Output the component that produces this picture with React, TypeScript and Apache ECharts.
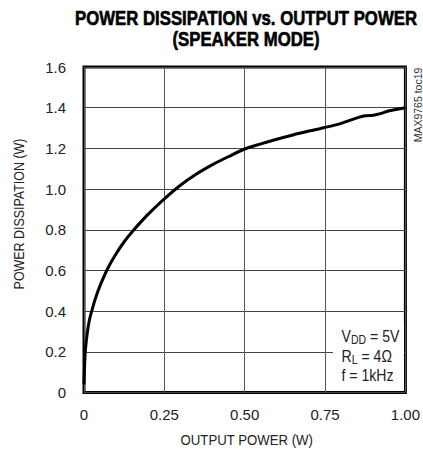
import React, { useEffect, useRef } from "react";
import * as echarts from "echarts";

const xValues = [0, 0.002, 0.005, 0.01, 0.016, 0.024, 0.035, 0.05, 0.075, 0.1, 0.125, 0.15, 0.175, 0.2, 0.25, 0.3, 0.35, 0.4, 0.45, 0.5, 0.55, 0.6, 0.65, 0.7, 0.75, 0.8, 0.85, 0.875, 0.9, 0.925, 0.95, 1.0];
const yValues = [0.04, 0.14, 0.22, 0.29, 0.35, 0.40, 0.46, 0.525, 0.613, 0.682, 0.741, 0.79, 0.835, 0.877, 0.952, 1.019, 1.074, 1.12, 1.16, 1.197, 1.222, 1.245, 1.266, 1.285, 1.303, 1.323, 1.35, 1.36, 1.363, 1.372, 1.385, 1.40];
const xTickLabels: Record<string, string> = { "0": "0", "0.25": "0.25", "0.5": "0.50", "0.75": "0.75", "1": "1.00" };
const yTickLabels: Record<string, string> = { "0": "0", "0.2": "0.2", "0.4": "0.4", "0.6": "0.6", "0.8": "0.8", "1": "1.0", "1.2": "1.2", "1.4": "1.4", "1.6": "1.6" };

const FONT = "'Liberation Sans', Arial, sans-serif";
const TXT = "#222";

export default function App() {
  const ref = useRef<HTMLDivElement>(null);
  useEffect(() => {
    if (!ref.current) return;
    const chart = echarts.init(ref.current, null, { renderer: "svg" });
    const data = xValues.map((x, i) => [x, yValues[i]]);
    const rich = {
      m: { fontFamily: FONT, fontSize: 16, fill: TXT, lineHeight: 18, verticalAlign: "bottom" },
      s: { fontFamily: FONT, fontSize: 12, fill: TXT, lineHeight: 14, verticalAlign: "bottom", padding: [0, 0, -2, 0] },
    };
    chart.setOption({
      animation: false,
      backgroundColor: "#fff",
      grid: { left: 84, right: 13, top: 67, bottom: 60.5, show: true, borderColor: "#000", borderWidth: 3, backgroundColor: "transparent" },
      xAxis: {
        type: "value",
        min: 0,
        max: 1,
        interval: 0.25,
        axisLine: { show: false },
        axisTick: { show: false },
        axisLabel: { margin: 14, fontFamily: FONT, fontSize: 15, color: TXT, formatter: (v: number) => xTickLabels[String(v)] ?? "" },
        splitLine: { show: true, lineStyle: { color: "#555", width: 1 } },
      },
      yAxis: {
        type: "value",
        min: 0,
        max: 1.6,
        interval: 0.2,
        axisLine: { show: false },
        axisTick: { show: false },
        axisLabel: { margin: 18, fontFamily: FONT, fontSize: 15, color: TXT, formatter: (v: number) => yTickLabels[String(Math.round(v * 10) / 10)] ?? "" },
        splitLine: { show: true, lineStyle: { color: "#444", width: 1 } },
      },
      graphic: [
        {
          type: "text",
          x: 246,
          y: 19,
          scaleX: 0.86,
          style: { text: "POWER DISSIPATION vs. OUTPUT POWER", fontFamily: FONT, fontWeight: "bold", fontSize: 19.5, fill: "#000", align: "center", verticalAlign: "middle", stroke: "#000", lineWidth: 0.6 },
        },
        {
          type: "text",
          x: 246,
          y: 40,
          scaleX: 0.86,
          style: { text: "(SPEAKER MODE)", fontFamily: FONT, fontWeight: "bold", fontSize: 19.5, fill: "#000", align: "center", verticalAlign: "middle", stroke: "#000", lineWidth: 0.6 },
        },
        {
          type: "text",
          x: 246.7,
          y: 440,
          scaleX: 0.88,
          style: { text: "OUTPUT POWER (W)", fontFamily: FONT, fontSize: 15, fill: TXT, align: "center", verticalAlign: "middle" },
        },
        {
          type: "text",
          x: 19.5,
          y: 214,
          rotation: Math.PI / 2,
          scaleX: 0.83,
          style: { text: "POWER DISSIPATION (W)", fontFamily: FONT, fontSize: 15, fill: TXT, align: "center", verticalAlign: "middle" },
        },
        {
          type: "text",
          x: 417.5,
          y: 105,
          rotation: Math.PI / 2,
          style: { text: "MAX9765 toc19", fontFamily: FONT, fontSize: 10.5, fill: "#333", align: "center", verticalAlign: "middle" },
        },
        {
          type: "rect",
          shape: { x: 333, y: 322, width: 71, height: 67 },
          style: { fill: "#fff" },
          z: 10,
        },
        {
          type: "text",
          x: 341.5,
          y: 335,
          z: 11,
          scaleX: 0.88,
          style: { text: "{m|V}{s|DD}{m| = 5V}", verticalAlign: "middle", rich },
        },
        {
          type: "text",
          x: 341.5,
          y: 355,
          z: 11,
          scaleX: 0.88,
          style: { text: "{m|R}{s|L}{m| = 4Ω}", verticalAlign: "middle", rich },
        },
        {
          type: "text",
          x: 341.5,
          y: 375,
          z: 11,
          scaleX: 0.88,
          style: { text: "f = 1kHz", fontFamily: FONT, fontSize: 16, fill: TXT, verticalAlign: "middle" },
        },
      ],
      series: [
        {
          type: "line",
          data,
          smooth: 0.3,
          showSymbol: false,
          lineStyle: { color: "#000", width: 3 },
          z: 5,
        },
      ],
    });
    return () => chart.dispose();
  }, []);
  return <div ref={ref} style={{ width: 423, height: 453, position: "absolute", left: 0, top: 0 }} />;
}
